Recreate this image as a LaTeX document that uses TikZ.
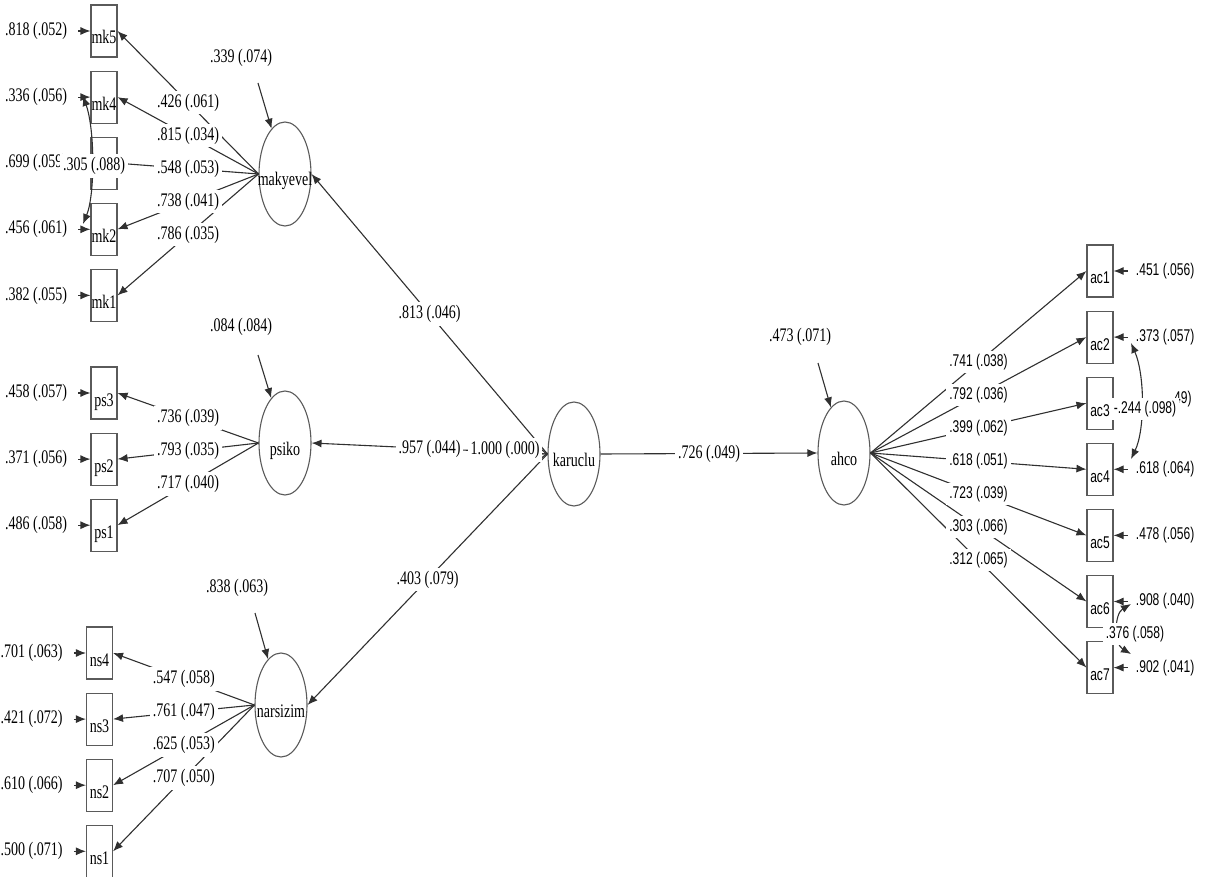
\documentclass[tikz,border=0pt]{standalone}
\usepackage{fontspec}
\setmainfont{Liberation Serif}[FakeStretch=0.73]
\newfontfamily\acfont{Liberation Sans}[FakeStretch=0.71]
\usepackage{tikz}
\usetikzlibrary{arrows.meta,calc,positioning,shapes.geometric}
\definecolor{edgegray}{HTML}{303030}
\definecolor{framegray}{HTML}{5A5A5A}
\tikzset{
  obs/.style={draw=framegray,line width=0.55pt,minimum width=13pt,minimum height=26pt,
    inner sep=0pt,text height=13pt,text depth=0pt},
  latent/.style={ellipse,draw=framegray,line width=0.55pt,minimum width=26pt,minimum height=52pt,
    inner sep=0pt,text height=12pt,text depth=0pt},
  est/.style={fill=white,inner sep=1.5pt},
  loading/.style={draw=edgegray,line width=0.55pt,-{Latex[length=5pt,width=4pt]}},
  cov/.style={draw=edgegray,line width=0.55pt,{Latex[length=5pt,width=4pt]}-{Latex[length=5pt,width=4pt]}},
  fixvar/.style={draw=edgegray,line width=0.55pt,-{Straight Barb[length=3pt,width=5pt]}},
}

\begin{document}
\begin{tikzpicture}[x=0.5pt,y=-0.5pt,node distance=6.5pt,font=\fontsize{9.6}{10}\selectfont]
  \useasboundingbox (0,0) rectangle (1205,877);

  \node[obs] (mk5) at (104,31) {mk5};
  \node[obs,below=of mk5] (mk4) {mk4};
  \node[obs,below=of mk4] (mk3) {mk3};
  \node[obs,below=of mk3] (mk2) {mk2};
  \node[obs,below=of mk2] (mk1) {mk1};
  \node[obs] (ps3) at (104,393) {ps3};
  \node[obs,below=of ps3] (ps2) {ps2};
  \node[obs,below=of ps2] (ps1) {ps1};
  \node[obs] (ns4) at (99.5,653) {ns4};
  \node[obs,below=of ns4] (ns3) {ns3};
  \node[obs,below=of ns3] (ns2) {ns2};
  \node[obs,below=of ns2] (ns1) {ns1};

  \node[latent] (makyevel) at (285,174) {\makebox[0pt]{makyevel}};
  \node[latent] (psiko) at (285,443) {\makebox[0pt]{psiko}};
  \node[latent] (narsizim) at (281,705) {\makebox[0pt]{narsizim}};
  \node[latent] (karuclu) at (574,454) {\makebox[0pt]{karuclu}};
  \node[latent] (ahco) at (844,453) {\makebox[0pt]{ahco}};

  \node[est,left=10pt of mk5] (emk5) {.818 (.052)};
  \node[est,left=10pt of mk4] (emk4) {.336 (.056)};
  \node[est,left=10pt of mk3] (emk3) {.699 (.059)};
  \node[est,left=10pt of mk2] (emk2) {.456 (.061)};
  \node[est,left=10pt of mk1] (emk1) {.382 (.055)};
  \node[est,left=10pt of ps3] (eps3) {.458 (.057)};
  \node[est,left=10pt of ps2] (eps2) {.371 (.056)};
  \node[est,left=10pt of ps1] (eps1) {.486 (.058)};
  \node[est,left=10pt of ns4] (ens4) {.701 (.063)};
  \node[est,left=10pt of ns3] (ens3) {.421 (.072)};
  \node[est,left=10pt of ns2] (ens2) {.610 (.066)};
  \node[est,left=10pt of ns1] (ens1) {.500 (.071)};
  \foreach \v in {mk5,mk4,mk3,mk2,mk1,ps3,ps2,ps1,ns4,ns3,ns2,ns1}
    \draw[loading,shorten <=4pt] (e\v) -- (\v);

  \node[est] (dmak) at (241,58) {.339 (.074)};
  \node[est] (dpsi) at (241,327) {.084 (.084)};
  \node[est] (dnar) at (237,588) {.838 (.063)};
  \node[est] (dahc) at (800,337) {.473 (.071)};
  \coordinate (tmak) at (258,83);
  \coordinate (tpsi) at (258,355);
  \coordinate (tnar) at (255,613);
  \coordinate (tahc) at (818,363);
  \draw[loading] (tmak) -- (makyevel);
  \draw[loading] (tpsi) -- (psiko);
  \draw[loading] (tnar) -- (narsizim);
  \draw[loading] (tahc) -- (ahco);

  \draw[loading] (makyevel.west) -- (mk5.east);
  \draw[loading] (makyevel.west) -- (mk4.east);
  \draw[loading] (makyevel.west) -- (mk3.east);
  \draw[loading] (makyevel.west) -- (mk2.east);
  \draw[loading] (makyevel.west) -- (mk1.east);
  \draw[loading] (psiko.west) -- (ps3.east);
  \draw[loading] (psiko.west) -- (ps2.east);
  \draw[loading] (psiko.west) -- (ps1.east);
  \draw[loading] (narsizim.west) -- (ns4.east);
  \draw[loading] (narsizim.west) -- (ns3.east);
  \draw[loading] (narsizim.west) -- (ns2.east);
  \draw[loading] (narsizim.west) -- (ns1.east);

  \draw[loading] (karuclu.west) -- (makyevel.east);
  \draw[loading] (karuclu.west) -- (psiko.east);
  \draw[loading] (karuclu.west) -- (narsizim.east);
  \draw[loading] (karuclu.east) -- (ahco.west);
  \coordinate (vkar) at (490,452);
  \draw[fixvar] (vkar) -- (karuclu.west);

  \node[est] (bmk5) at ($(makyevel.west)!.5!(mk5.east)$) {.426 (.061)};
  \node[est] (bmk4) at ($(makyevel.west)!.5!(mk4.east)$) {.815 (.034)};
  \node[est] (bmk3) at ($(makyevel.west)!.5!(mk3.east)$) {.548 (.053)};
  \node[est] (bmk2) at ($(makyevel.west)!.5!(mk2.east)$) {.738 (.041)};
  \node[est] (bmk1) at ($(makyevel.west)!.5!(mk1.east)$) {.786 (.035)};
  \node[est] (bps3) at ($(psiko.west)!.5!(ps3.east)$) {.736 (.039)};
  \node[est] (bps2) at ($(psiko.west)!.5!(ps2.east)$) {.793 (.035)};
  \node[est] (bps1) at ($(psiko.west)!.5!(ps1.east)$) {.717 (.040)};
  \node[est] (bns4) at ($(narsizim.west)!.5!(ns4.east)$) {.547 (.058)};
  \node[est] (bns3) at ($(narsizim.west)!.5!(ns3.east)$) {.761 (.047)};
  \node[est] (bns2) at ($(narsizim.west)!.5!(ns2.east)$) {.625 (.053)};
  \node[est] (bns1) at ($(narsizim.west)!.5!(ns1.east)$) {.707 (.050)};
  \node[est] (gmak) at ($(karuclu.west)!.5!(makyevel.east)$) {.813 (.046)};
  \node[est] (gpsi) at ($(karuclu.west)!.5!(psiko.east)$) {.957 (.044)};
  \node[est] (gnar) at ($(karuclu.west)!.5!(narsizim.east)$) {.403 (.079)};
  \node[est] (gahc) at ($(karuclu.east)!.5!(ahco.west)$) {.726 (.049)};
  \node[est] (vkarlbl) at (505,450) {1.000 (.000)};

  \coordinate (cmk4) at (83,96);
  \coordinate (cmk2) at (83,224);
  \draw[cov] (cmk4) .. controls (95,130) and (95,195) .. (cmk2);
  \node[est] (cmk) at (94,166) {.305 (.088)};

  \begin{scope}[font=\acfont\fontsize{8.5}{9}\selectfont]
    \node[obs] (ac1) at (1100,271) {ac1};
    \node[obs,below=of ac1] (ac2) {ac2};
    \node[obs,below=of ac2] (ac3) {ac3};
    \node[obs,below=of ac3] (ac4) {ac4};
    \node[obs,below=of ac4] (ac5) {ac5};
    \node[obs,below=of ac5] (ac6) {ac6};
    \node[obs,below=of ac6] (ac7) {ac7};

    \node[est,right=9.5pt of ac1] (eac1) {.451 (.056)};
    \node[est,right=9.5pt of ac2] (eac2) {.373 (.057)};
    \node[est,anchor=east] (eac3) at (1195,399) {49)};
    \node[est,right=9.5pt of ac4] (eac4) {.618 (.064)};
    \node[est,right=9.5pt of ac5] (eac5) {.478 (.056)};
    \node[est,right=9.5pt of ac6] (eac6) {.908 (.040)};
    \node[est,right=9.5pt of ac7] (eac7) {.902 (.041)};
    \foreach \v in {ac1,ac2,ac4,ac5,ac6,ac7}
      \draw[loading,shorten <=2.5pt] (e\v) -- (\v);

    \foreach \v in {ac1,ac2,ac3,ac4,ac5,ac6,ac7}
      \draw[loading] (ahco.east) -- (\v.west);
    \node[est] (bac1) at ($(ahco.east)!.5!(ac1.west)$) {.741 (.038)};
    \node[est] (bac2) at ($(ahco.east)!.5!(ac2.west)$) {.792 (.036)};
    \node[est] (bac3) at ($(ahco.east)!.5!(ac3.west)$) {.399 (.062)};
    \node[est] (bac4) at ($(ahco.east)!.5!(ac4.west)$) {.618 (.051)};
    \node[est] (bac5) at ($(ahco.east)!.5!(ac5.west)$) {.723 (.039)};
    \node[est] (bac6) at ($(ahco.east)!.5!(ac6.west)$) {.303 (.066)};
    \node[est] (bac7) at ($(ahco.east)!.5!(ac7.west)$) {.312 (.065)};

    \coordinate (cac2) at (1131,343);
    \coordinate (cac4) at (1131,459);
    \draw[cov] (cac2) .. controls (1145,375) and (1145,430) .. (cac4);
    \node[est] (cac) at (1145,409) {-.244 (.098)};
    \coordinate (cac6) at (1131,604);
    \coordinate (cac7) at (1131,654);
    \draw[cov] (cac6) .. controls (1114,614) and (1114,644) .. (cac7);
    \node[est] (cacb) at (1135,634) {.376 (.058)};
  \end{scope}
\end{tikzpicture}
\end{document}
